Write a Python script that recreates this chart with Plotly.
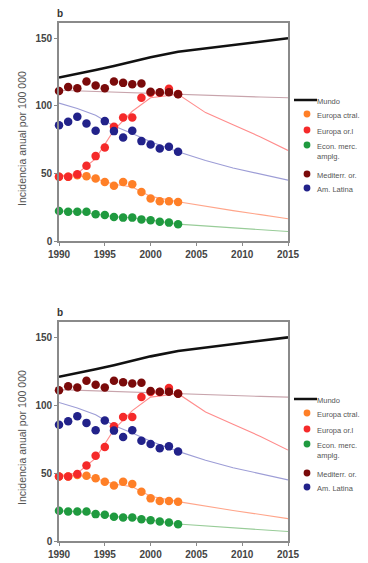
import plotly.graph_objects as go

# ---- data ----
obs_years = list(range(1990, 2004))
trend_years = [1990, 1992, 1994, 1996, 1998, 2000, 2003, 2006, 2009, 2012, 2015]

mundo = [121, 123.5, 126.5, 129.5, 133, 136, 140, 142.5, 145, 147.5, 150]

europa_ctral_obs = [47.5, 47.5, 48.7, 48, 46.2, 43.7, 40.8, 43.7, 42, 36.3, 31.4, 29.4, 29.4, 28.9]
europa_or_obs = [47.5, 47.5, 49.4, 55.6, 62.8, 69.2, 84.5, 91.4, 91.4, 106, 109.7, 109.7, 112.7, 108.7]
econ_obs = [22.2, 21.7, 21.7, 21.7, 19.8, 19.3, 17.8, 17.3, 17.3, 16, 15.3, 14.3, 13.6, 12.4]
medit_obs = [111, 114, 113, 118, 115, 113, 118, 117, 116, 116.6, 110.5, 110, 110, 108.5]
amlat_obs = [85.7, 88.2, 91.9, 87, 81.5, 88.7, 81.3, 76.6, 81.5, 73.9, 71.4, 68.4, 69.7, 66]

europa_ctral_trend = [48, 48.5, 46, 42, 40, 33, 29, 25.5, 22.5, 19.5, 16.5]
europa_or_trend = [48, 50, 61, 82, 96, 106, 108.5, 95, 86, 77, 67]
econ_trend = [22.2, 21.7, 20, 18, 17, 15.5, 12.5, 11, 9.5, 8, 7]
medit_trend = [111.5, 111, 110.5, 110, 109.5, 109, 108.3, 107.5, 107, 106.5, 106]
amlat_trend = [102, 98, 93, 85, 79.5, 73.5, 66, 59.5, 54, 49.5, 45]

legend_names = ["Mundo", "Europa ctral.", "Europa or.l", "Econ. merc.<br>amplg.", "Mediterr. or.", "Am. Latina"]
x_ticks = [1990, 1995, 2000, 2005, 2010, 2015]
y_ticks = [0, 50, 100, 150]

# ---- styles ----
marker_colors = ["#ff7f27", "#f52a2a", "#1f9a3f", "#7a0a0a", "#22228a"]
line_colors = ["#ffa58a", "#ff8c8c", "#98cc98", "#c8a4ac", "#9d9dd6"]
obs_series = [europa_ctral_obs, europa_or_obs, econ_obs, medit_obs, amlat_obs]
trend_series = [europa_ctral_trend, europa_or_trend, econ_trend, medit_trend, amlat_trend]

# page body has an 8px margin: the figure starts at (8, 8) in the window
OFF = 8
W, H = 368 - OFF, 563 - OFF
fig = go.Figure()

panels = [("x", "y"), ("x2", "y2")]
for xa, ya in panels:
    for tr, col in zip(trend_series, line_colors):
        fig.add_trace(go.Scatter(x=trend_years, y=tr, mode="lines", xaxis=xa, yaxis=ya,
                                 line=dict(color=col, width=1.1), showlegend=False, hoverinfo="skip"))
    fig.add_trace(go.Scatter(x=trend_years, y=mundo, mode="lines", xaxis=xa, yaxis=ya,
                             line=dict(color="#111111", width=2.6), showlegend=False))
    for ob, col in zip(obs_series, marker_colors):
        fig.add_trace(go.Scatter(x=obs_years, y=ob, mode="markers", xaxis=xa, yaxis=ya,
                                 marker=dict(color=col, size=8.5), showlegend=False, cliponaxis=False))

# panel pixel geometry (window coordinates)
x_left, x_right = 59, 288
panel_px = [(23, 241), (322, 541)]

def px_x(p):
    return (p - OFF) / W

def px_y(p):
    return 1 - (p - OFF) / H

axis_common = dict(showgrid=False, zeroline=False, showline=True, linecolor="#8a8a8a",
                   linewidth=1.6, mirror=True, ticks="outside", ticklen=3, tickwidth=1,
                   tickcolor="#8a8a8a", automargin=False,
                   tickfont=dict(family="Liberation Sans, Arial", size=10, color="#444444", weight="bold"))

layout = dict(width=W, height=H, margin=dict(l=0, r=0, t=0, b=0, autoexpand=False),
              paper_bgcolor="white", plot_bgcolor="white", showlegend=False)

for i, (top, bot) in enumerate(panel_px):
    sfx = "" if i == 0 else str(i + 1)
    layout["xaxis" + sfx] = dict(axis_common, domain=[px_x(x_left), px_x(x_right)], range=[1990, 2015],
                                 tickvals=x_ticks, anchor="y" + sfx)
    layout["yaxis" + sfx] = dict(axis_common, domain=[px_y(bot), px_y(top)], range=[0, 161.3],
                                 tickvals=y_ticks, anchor="x" + sfx)

fig.update_layout(**layout)

annotations = []
shapes = []
for i, (top, bot) in enumerate(panel_px):
    off = 0 if i == 0 else 299
    annotations.append(dict(text="b", x=px_x(60), y=px_y(13 + off), xref="paper", yref="paper",
                            showarrow=False, xanchor="center", yanchor="middle",
                            font=dict(family="Liberation Sans, Arial", size=10, color="#333333", weight="bold")))
    annotations.append(dict(text="Incidencia anual por 100 000", x=px_x(22), y=px_y(139 + off),
                            xref="paper", yref="paper", showarrow=False, textangle=-90,
                            xanchor="center", yanchor="middle",
                            font=dict(family="Liberation Sans, Arial", size=10.5, color="#555555")))
    # legend
    ys = [100, 114, 130, 145, 174, 188]
    shapes.append(dict(type="line", xref="paper", yref="paper", x0=px_x(294), x1=px_x(317),
                       y0=px_y(100 + off), y1=px_y(100 + off), line=dict(color="#111111", width=2.5)))
    for k, name in enumerate(legend_names):
        yy = ys[k] + off
        if k > 0:
            r = 3.4
            shapes.append(dict(type="circle", xref="paper", yref="paper",
                               x0=px_x(307 - r), x1=px_x(307 + r), y0=px_y(yy - r), y1=px_y(yy + r),
                               fillcolor=marker_colors[k - 1], line=dict(width=0)))
        annotations.append(dict(text=name, x=px_x(315), y=px_y(yy - 4.6), xref="paper", yref="paper",
                                showarrow=False, xanchor="left", yanchor="top", align="left",
                                font=dict(family="Liberation Sans, Arial", size=7.5, color="#555555")))

fig.update_layout(annotations=annotations, shapes=shapes)
fig.write_html("out.html")
